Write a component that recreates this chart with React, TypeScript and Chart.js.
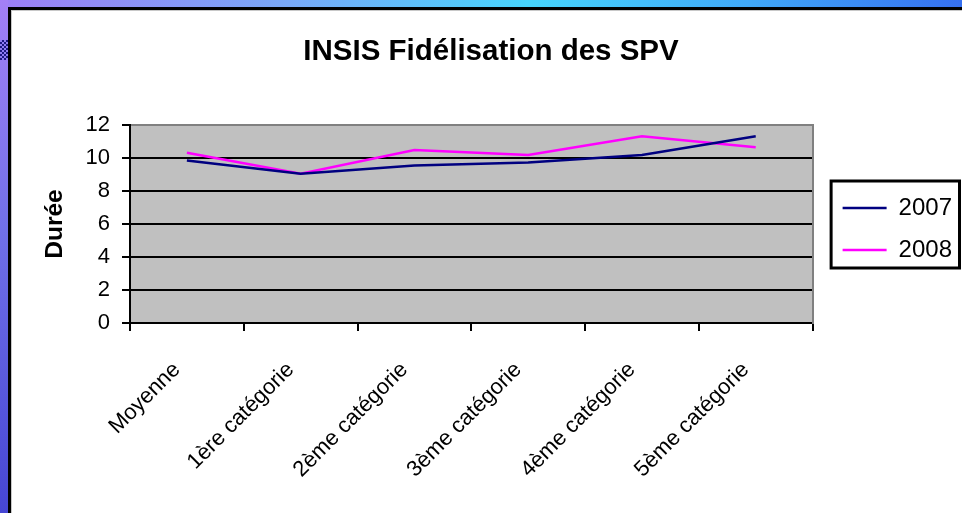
import React, { useEffect, useRef } from "react";
import { Chart, registerables } from "chart.js";

Chart.register(...registerables);

const categories = [
  "Moyenne",
  "1ère catégorie",
  "2ème catégorie",
  "3ème catégorie",
  "4ème catégorie",
  "5ème catégorie",
];
const seriesLabels = ["2007", "2008"];
const values2007 = [9.85, 9.05, 9.55, 9.72, 10.18, 11.32];
const values2008 = [10.32, 9.05, 10.48, 10.18, 11.32, 10.65];
const yMin = 0;
const yMax = 12;
const yStep = 2;
const chartTitle = "INSIS Fidélisation des SPV";
const yAxisTitle = "Durée";

const FONT = "'Liberation Sans', Arial, Helvetica, sans-serif";

const plotDecor = {
  id: "plotDecor",
  beforeDraw(chart: any) {
    const { ctx, chartArea: a } = chart;
    ctx.save();
    ctx.fillStyle = "#c0c0c0";
    ctx.fillRect(a.left, a.top, a.right - a.left, a.bottom - a.top);
    ctx.restore();
  },
  afterDraw(chart: any) {
    const lg = chart.legend;
    if (!lg || !lg.legendHitBoxes || lg.legendHitBoxes.length < 2) return;
    const hb = lg.legendHitBoxes;
    const c1 = hb[0].top + 12;
    const c2 = hb[hb.length - 1].top + 12;
    const { ctx } = chart;
    ctx.save();
    ctx.strokeStyle = "#000";
    ctx.lineWidth = 3;
    const left = hb[0].left - 11.5;
    const top = c1 - 27;
    const right = 959.5;
    const bottom = c2 + 18;
    ctx.strokeRect(left, top, right - left, bottom - top);
    ctx.restore();
  },
};

export default function App() {
  const ref = useRef<HTMLCanvasElement>(null);

  useEffect(() => {
    const defaultGen = (Chart.defaults.plugins.legend.labels as any).generateLabels;
    const chart = new Chart(ref.current as HTMLCanvasElement, {
      type: "line",
      data: {
        labels: categories,
        datasets: [
          {
            label: seriesLabels[0],
            data: values2007,
            borderColor: "#000080",
            backgroundColor: "#000080",
            borderWidth: 2.5,
            pointRadius: 0,
            tension: 0,
            fill: false,
          },
          {
            label: seriesLabels[1],
            data: values2008,
            borderColor: "#ff00ff",
            backgroundColor: "#ff00ff",
            borderWidth: 2.5,
            pointRadius: 0,
            tension: 0,
            fill: false,
          },
        ],
      },
      options: {
        responsive: false,
        animation: false,
        devicePixelRatio: 1,
        layout: { padding: { top: 10, left: 20, right: 0, bottom: 0 } },
        plugins: {
          title: {
            display: true,
            text: chartTitle,
            color: "#000",
            font: { family: FONT, size: 29.5, weight: "bold" },
            padding: { top: 24, bottom: 55.6 },
          },
          legend: {
            display: true,
            position: "right",
            fullSize: false,
            align: "center",
            title: {
              display: true,
              text: " ",
              font: { family: FONT, size: 12, lineHeight: 1.25 },
              padding: 0,
            },
            labels: {
              usePointStyle: true,
              pointStyle: "line",
              pointStyleWidth: 44,
              padding: 13,
              color: "#000",
              font: { family: FONT, size: 24, lineHeight: 29 / 24 },
              generateLabels: (chart: any) =>
                defaultGen(chart).map((item: any) => ({ ...item, text: [item.text] })),
            },
          },
          tooltip: { enabled: false },
        },
        scales: {
          x: {
            type: "category",
            offset: true,
            grid: {
              offset: true,
              drawOnChartArea: false,
              drawTicks: true,
              tickLength: 8,
              tickColor: "#000",
              tickWidth: 2,
              color: "#000",
              lineWidth: 2,
            },
            border: { display: true, color: "#000", width: 2 },
            ticks: {
              autoSkip: false,
              minRotation: 45,
              maxRotation: 45,
              padding: 26,
              labelOffset: -10,
              color: "#000",
              font: { family: FONT, size: 22 },
            },
            afterFit: (s: any) => {
              s.height = 190;
            },
          },
          y: {
            type: "linear",
            min: yMin,
            max: yMax,
            ticks: {
              stepSize: yStep,
              padding: 12,
              color: "#000",
              font: { family: FONT, size: 22 },
            },
            grid: {
              color: (c: any) => (c.tick && c.tick.value === yMax ? "#808080" : "#000"),
              lineWidth: 2,
              tickLength: 8,
              tickColor: "#000",
              tickWidth: 2,
            },
            border: { display: true, color: "#000", width: 2 },
            title: {
              display: true,
              text: yAxisTitle,
              color: "#000",
              font: { family: FONT, size: 24.5, weight: "bold" },
              padding: { top: 21, bottom: 0 },
            },
            afterFit: (s: any) => {
              s.width = 110;
            },
          },
          yRightEdge: {
            type: "linear",
            position: "right",
            display: true,
            grid: { display: false, drawTicks: false },
            ticks: { display: false },
            border: { display: true, color: "#808080", width: 2 },
            afterFit: (s: any) => {
              s.width = 17;
            },
          },
        },
      },
      plugins: [plotDecor],
    } as any);
    return () => chart.destroy();
  }, []);

  return (
    <div
      style={{
        position: "fixed",
        left: 0,
        top: 0,
        width: 962,
        height: 513,
        overflow: "hidden",
        background:
          "linear-gradient(to right, #9d7ef5 0%, #78a8f8 30%, #46d4fc 55%, #40a8f8 78%, #3670f0 100%)",
      }}
    >
      <div
        style={{
          position: "absolute",
          left: 0,
          top: 0,
          width: 8,
          height: 513,
          background: "linear-gradient(to bottom, #a380f6 0%, #7070e8 45%, #4646d4 100%)",
        }}
      />
      <div
        style={{
          position: "absolute",
          left: 0,
          top: 40,
          width: 8,
          height: 20,
          background: "repeating-conic-gradient(#1c1880 0 25%, #8e7cf2 0 50%) 0 0 / 4px 4px",
        }}
      />
      <div
        style={{
          position: "absolute",
          left: 8,
          top: 7,
          right: 0,
          bottom: 0,
          background: "#fff",
          borderLeft: "3px solid #000",
          borderTop: "3px solid #000",
          boxShadow: "inset 1px 1px 0 #c8c8c8",
        }}
      />
      <canvas
        ref={ref}
        width={962}
        height={513}
        style={{ position: "absolute", left: 0, top: 0, display: "block" }}
      />
    </div>
  );
}
